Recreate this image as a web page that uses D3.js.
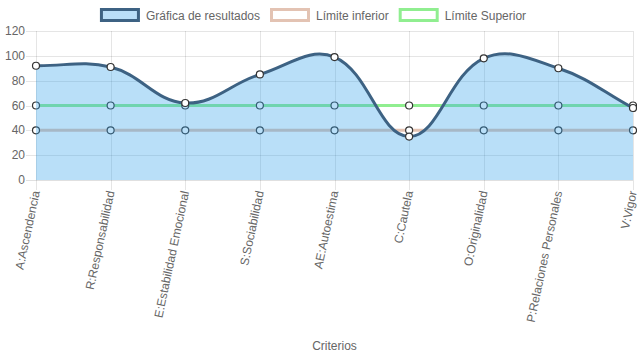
<!DOCTYPE html>
<html><head><meta charset="utf-8">
<script src="https://cdn.jsdelivr.net/npm/d3@7"></script>
<style>html,body{margin:0;padding:0;background:#fff;}svg{display:block;font-family:"Liberation Sans",Arial,Helvetica,sans-serif;}</style>
</head><body>
<svg id="c" width="637" height="359"></svg>
<script>
const categories = ["A:Ascendencia","R:Responsabilidad","E:Estabilidad Emocional","S:Sociabilidad","AE:Autoestima","C:Cautela","O:Originalidad","P:Relaciones Personales","V:Vigor"];
const resultados = [92, 91, 62, 85, 99, 35, 98, 90, 58];
const limiteInferior = [40, 40, 40, 40, 40, 40, 40, 40, 40];
const limiteSuperior = [60, 60, 60, 60, 60, 60, 60, 60, 60];
const yTicks = [0, 20, 40, 60, 80, 100, 120];
const seriesNames = ["Gráfica de resultados", "Límite inferior", "Límite Superior"];
const xTitle = "Criterios";

(function () {
const svg = d3.select("#c");
const pLeft = 36, pRight = 633, pTop = 31, pBottom = 180;
const x = d3.scalePoint().domain(categories).range([pLeft, pRight]);
const y = d3.scaleLinear().domain([0, 120]).range([pBottom, pTop]);
const textColor = "#666";

// grid
const g = svg.append("g");
yTicks.forEach(v => {
  const yy = Math.round(y(v)) + 0.5;
  g.append("line").attr("x1", pLeft - 10).attr("x2", pRight).attr("y1", yy).attr("y2", yy)
    .attr("stroke", v === 0 ? "rgba(0,0,0,0.12)" : "rgba(0,0,0,0.1)");
  g.append("text").attr("x", 25).attr("y", y(v)).attr("text-anchor", "end")
    .attr("dominant-baseline", "central").attr("font-size", 12).attr("fill", textColor).text(v);
});
categories.forEach(c => {
  const xx = Math.round(x(c)) + 0.5;
  g.append("line").attr("x1", xx).attr("x2", xx).attr("y1", pTop).attr("y2", pBottom + 10)
    .attr("stroke", "rgba(0,0,0,0.1)");
  g.append("text").attr("transform", `translate(${x(c)},${pBottom + 11}) rotate(-78)`)
    .attr("text-anchor", "end").attr("dominant-baseline", "central")
    .attr("font-size", 12).attr("fill", textColor).text(c);
});
svg.append("text").attr("x", (pLeft + pRight) / 2).attr("y", 346).attr("text-anchor", "middle")
  .attr("dominant-baseline", "central").attr("font-size", 12).attr("fill", textColor).text(xTitle);

// Chart.js-like spline
function pts(vals) { return vals.map((v, i) => ({ x: x(categories[i]), y: y(v) })); }
function controlPoints(p, t) {
  const clamp = (v, a, b) => Math.max(a, Math.min(b, v));
  return p.map((cur, i) => {
    const prev = p[i - 1] || cur, next = p[i + 1] || cur;
    const d01 = Math.hypot(cur.x - prev.x, cur.y - prev.y);
    const d12 = Math.hypot(next.x - cur.x, next.y - cur.y);
    let s01 = d01 / (d01 + d12), s12 = d12 / (d01 + d12);
    if (isNaN(s01)) s01 = 0; if (isNaN(s12)) s12 = 0;
    const fa = t * s01, fb = t * s12;
    return {
      px: clamp(cur.x - fa * (next.x - prev.x), pLeft, pRight), py: clamp(cur.y - fa * (next.y - prev.y), pTop, pBottom),
      nx: clamp(cur.x + fb * (next.x - prev.x), pLeft, pRight), ny: clamp(cur.y + fb * (next.y - prev.y), pTop, pBottom)
    };
  });
}
function linePath(vals, closeToBase) {
  const p = pts(vals), cp = controlPoints(p, 0.4);
  const path = d3.path();
  path.moveTo(p[0].x, p[0].y);
  for (let i = 1; i < p.length; i++) {
    path.bezierCurveTo(cp[i - 1].nx, cp[i - 1].ny, cp[i].px, cp[i].py, p[i].x, p[i].y);
  }
  if (closeToBase) {
    path.lineTo(p[p.length - 1].x, y(0));
    path.lineTo(p[0].x, y(0));
    path.closePath();
  }
  return path.toString();
}
function drawPoints(vals) {
  svg.append("g").selectAll("circle").data(vals).join("circle")
    .attr("cx", (d, i) => x(categories[i])).attr("cy", d => y(d)).attr("r", 3.5)
    .attr("fill", "#fff").attr("stroke", "#333").attr("stroke-width", 1.2);
}

const colors = { res: "#3d6283", resFill: "rgba(54,162,235,0.35)", inf: "#e3c3b3", sup: "#90ee90" };

svg.append("path").attr("d", linePath(limiteInferior)).attr("fill", "none").attr("stroke", colors.inf).attr("stroke-width", 3);
drawPoints(limiteInferior);
svg.append("path").attr("d", linePath(limiteSuperior)).attr("fill", "none").attr("stroke", colors.sup).attr("stroke-width", 3);
drawPoints(limiteSuperior);
svg.append("path").attr("d", linePath(resultados, true)).attr("fill", colors.resFill).attr("stroke", "none");
svg.append("path").attr("d", linePath(resultados)).attr("fill", "none").attr("stroke", colors.res).attr("stroke-width", 3);
drawPoints(resultados);

// legend
const legendItems = [
  { name: seriesNames[0], fill: "#b9def8", stroke: colors.res },
  { name: seriesNames[1], fill: "#fff", stroke: colors.inf },
  { name: seriesNames[2], fill: "#fff", stroke: colors.sup }
];
const lg = svg.append("g");
const widths = [];
legendItems.forEach(it => {
  const t = lg.append("text").attr("font-size", 12).text(it.name);
  widths.push(t.node().getComputedTextLength()); t.remove();
});
const itemW = widths.map(w => 40 + 6 + w);
const total = d3.sum(itemW) + 10 * (legendItems.length - 1);
let cx = 313 - total / 2;
legendItems.forEach((it, i) => {
  lg.append("rect").attr("x", cx + 1.5).attr("y", 9.5).attr("width", 37).attr("height", 11)
    .attr("fill", it.fill).attr("stroke", it.stroke).attr("stroke-width", 3);
  lg.append("text").attr("x", cx + 46).attr("y", 15.5).attr("dominant-baseline", "central")
    .attr("font-size", 12).attr("fill", textColor).text(it.name);
  cx += itemW[i] + 10;
});
})();
</script>
</body></html>
